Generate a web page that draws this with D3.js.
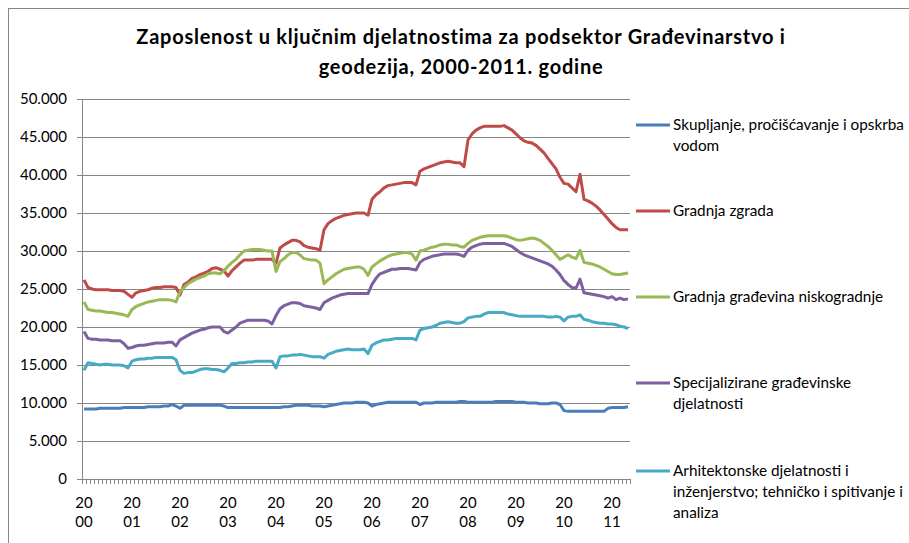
<!DOCTYPE html>
<html>
<head>
<meta charset="utf-8">
<script src="https://cdn.jsdelivr.net/npm/d3@7"></script>
<style>
  body { margin: 0; background: #fff; }
  svg { display: block; font-family: Lato, "Open Sans", sans-serif; }
</style>
</head>
<body>
<svg id="chart" width="909" height="543"></svg>
<script>
// godine na osi x, mjesečni podaci od siječnja 2000. do svibnja 2011.
const years = ["2000", "2001", "2002", "2003", "2004", "2005", "2006", "2007", "2008", "2009", "2010", "2011"];
const monthsInLastYear = 5;
const yTicks = [0, 5000, 10000, 15000, 20000, 25000, 30000, 35000, 40000, 45000, 50000];

// vrijednosti u tisućama zaposlenih
const skupljanje = [
  9.2, 9.2, 9.2, 9.2, 9.3, 9.3, 9.3, 9.3, 9.3, 9.3, 9.4, 9.4,
  9.4, 9.4, 9.4, 9.4, 9.5, 9.5, 9.5, 9.5, 9.6, 9.6, 9.8, 9.6,
  9.3, 9.7, 9.7, 9.7, 9.7, 9.7, 9.7, 9.7, 9.7, 9.7, 9.7, 9.6,
  9.4, 9.4, 9.4, 9.4, 9.4, 9.4, 9.4, 9.4, 9.4, 9.4, 9.4, 9.4,
  9.4, 9.4, 9.5, 9.5, 9.6, 9.7, 9.7, 9.7, 9.7, 9.6, 9.6, 9.6,
  9.5, 9.6, 9.7, 9.8, 9.9, 10.0, 10.0, 10.0, 10.1, 10.1, 10.1, 10.0,
  9.6, 9.8, 9.9, 10.0, 10.1, 10.1, 10.1, 10.1, 10.1, 10.1, 10.1, 10.1,
  9.8, 10.0, 10.0, 10.0, 10.1, 10.1, 10.1, 10.1, 10.1, 10.1, 10.2, 10.2,
  10.1, 10.1, 10.1, 10.1, 10.1, 10.1, 10.1, 10.2, 10.2, 10.2, 10.2, 10.2,
  10.1, 10.1, 10.1, 10.0, 10.0, 10.0, 9.9, 9.9, 9.9, 10.0, 10.0, 9.8,
  9.0, 8.9, 8.9, 8.9, 8.9, 8.9, 8.9, 8.9, 8.9, 8.9, 8.9, 9.3,
  9.4, 9.4, 9.4, 9.4, 9.5
];
const gradnjaZgrada = [
  26.2, 25.2, 25.0, 24.9, 24.9, 24.9, 24.9, 24.8, 24.8, 24.8, 24.7, 24.3,
  23.9, 24.5, 24.7, 24.8, 24.9, 25.1, 25.2, 25.2, 25.3, 25.3, 25.3, 25.2,
  24.2, 25.6, 25.9, 26.4, 26.6, 26.9, 27.1, 27.3, 27.7, 27.8, 27.6, 27.4,
  26.7, 27.4, 27.9, 28.4, 28.8, 28.8, 28.8, 28.9, 28.9, 28.9, 28.9, 28.9,
  28.4, 30.4, 30.8, 31.1, 31.4, 31.4, 31.2, 30.7, 30.5, 30.4, 30.3, 30.1,
  32.8, 33.6, 34.0, 34.3, 34.5, 34.7, 34.8, 34.9, 35.0, 35.0, 35.0, 34.7,
  36.8, 37.4, 37.8, 38.3, 38.6, 38.7, 38.8, 38.9, 39.0, 39.0, 39.0, 38.7,
  40.5, 40.8, 41.0, 41.2, 41.4, 41.6, 41.7, 41.8, 41.7, 41.6, 41.6, 41.1,
  44.6, 45.4, 45.9, 46.2, 46.4, 46.4, 46.4, 46.4, 46.4, 46.5, 46.2, 45.9,
  45.4, 44.9, 44.5, 44.3, 44.2, 43.9, 43.4, 42.9, 42.2, 41.5, 40.8, 39.7,
  38.9, 38.8, 38.3, 37.8, 40.1, 36.8, 36.6, 36.3, 35.9, 35.4, 34.8, 34.2,
  33.6, 33.1, 32.8, 32.8, 32.8
];
const niskogradnja = [
  23.3, 22.3, 22.2, 22.1, 22.1, 22.0, 21.9, 21.9, 21.8, 21.7, 21.6, 21.4,
  22.3, 22.7, 22.9, 23.1, 23.3, 23.4, 23.5, 23.6, 23.6, 23.6, 23.5, 23.3,
  24.6, 25.2, 25.7, 26.0, 26.3, 26.5, 26.7, 27.0, 27.1, 27.1, 27.0, 27.4,
  28.0, 28.5, 28.9, 29.5, 30.0, 30.1, 30.2, 30.2, 30.2, 30.1, 30.0, 30.0,
  27.3, 28.6, 29.0, 29.5, 29.8, 29.8, 29.5, 29.0, 28.9, 28.8, 28.8, 28.4,
  25.7, 26.2, 26.6, 27.0, 27.3, 27.6, 27.7, 27.8, 27.9, 27.9, 27.6, 26.8,
  27.9, 28.3, 28.7, 29.0, 29.3, 29.5, 29.6, 29.7, 29.8, 29.8, 29.6, 28.8,
  30.0, 30.1, 30.3, 30.5, 30.6, 30.8, 30.9, 30.9, 30.8, 30.8, 30.6, 30.5,
  31.0, 31.4, 31.6, 31.8, 31.9, 32.0, 32.0, 32.0, 32.0, 32.0, 31.9, 31.7,
  31.5, 31.4, 31.5, 31.6, 31.7, 31.6, 31.4, 31.0, 30.6, 30.1, 29.5, 28.9,
  29.2, 29.5, 29.2, 29.0, 30.1, 28.5, 28.4, 28.3, 28.1, 27.9, 27.6, 27.3,
  27.0, 26.9, 26.9, 27.0, 27.1
];
const specijalizirane = [
  19.4, 18.5, 18.4, 18.4, 18.3, 18.3, 18.3, 18.2, 18.2, 18.2, 17.8, 17.2,
  17.3, 17.5, 17.6, 17.6, 17.7, 17.8, 17.9, 17.9, 17.9, 18.0, 18.0, 17.5,
  18.3, 18.6, 18.9, 19.2, 19.4, 19.6, 19.7, 19.9, 20.0, 20.0, 20.0, 19.4,
  19.2, 19.6, 20.0, 20.5, 20.7, 20.9, 20.9, 20.9, 20.9, 20.9, 20.8, 20.4,
  21.5, 22.4, 22.8, 23.0, 23.2, 23.2, 23.1, 22.8, 22.7, 22.6, 22.5, 22.3,
  23.2, 23.5, 23.8, 24.0, 24.2, 24.3, 24.4, 24.4, 24.4, 24.4, 24.4, 24.4,
  25.6, 26.4, 27.0, 27.2, 27.4, 27.6, 27.6, 27.7, 27.7, 27.7, 27.6, 27.5,
  28.5, 28.9, 29.1, 29.3, 29.4, 29.5, 29.6, 29.6, 29.6, 29.6, 29.5, 29.3,
  30.1, 30.5, 30.7, 30.9, 31.0, 31.0, 31.0, 31.0, 31.0, 31.0, 30.8, 30.6,
  30.2, 29.8, 29.5, 29.3, 29.1, 28.9, 28.7, 28.5, 28.3, 28.0, 27.5, 26.9,
  26.1, 25.6, 25.2, 25.1, 26.3, 24.5, 24.4, 24.3, 24.2, 24.1, 24.0, 23.8,
  24.0, 23.6, 23.8, 23.6, 23.7
];
const arhitektonske = [
  14.3, 15.3, 15.2, 15.1, 15.0, 15.1, 15.1, 15.0, 15.0, 15.0, 14.9, 14.6,
  15.5, 15.7, 15.8, 15.8, 15.9, 15.9, 16.0, 16.0, 16.0, 16.0, 16.0, 15.7,
  14.3, 13.9, 14.0, 14.0, 14.2, 14.4, 14.5, 14.5, 14.4, 14.4, 14.3, 14.1,
  14.6, 15.2, 15.2, 15.3, 15.3, 15.4, 15.4, 15.5, 15.5, 15.5, 15.5, 15.5,
  14.6, 16.1, 16.2, 16.2, 16.3, 16.3, 16.4, 16.3, 16.2, 16.1, 16.1, 16.1,
  15.9, 16.4, 16.6, 16.8, 16.9, 17.0, 17.1, 17.0, 17.0, 17.0, 17.1, 16.5,
  17.6, 17.9, 18.1, 18.3, 18.3, 18.4, 18.5, 18.5, 18.5, 18.5, 18.5, 18.3,
  19.6, 19.8, 19.9, 20.0, 20.2, 20.5, 20.6, 20.7, 20.6, 20.5, 20.5, 20.7,
  21.2, 21.3, 21.4, 21.4, 21.7, 21.9, 21.9, 21.9, 21.9, 21.9, 21.7, 21.6,
  21.5, 21.4, 21.4, 21.4, 21.4, 21.4, 21.4, 21.4, 21.3, 21.3, 21.4, 21.3,
  20.8, 21.3, 21.4, 21.4, 21.6, 21.0, 20.9, 20.7, 20.6, 20.5, 20.5, 20.4,
  20.4, 20.3, 20.1, 20.0, 19.8
];

const seriesNames = [
  ["Skupljanje, pročišćavanje i opskrba", "vodom"],
  ["Gradnja zgrada"],
  ["Gradnja građevina niskogradnje"],
  ["Specijalizirane građevinske", "djelatnosti"],
  ["Arhitektonske djelatnosti i", "inženjerstvo; tehničko i spitivanje i", "analiza"]
];
const seriesValues = [skupljanje, gradnjaZgrada, niskogradnja, specijalizirane, arhitektonske];
const seriesColors = ["#4a7ebb", "#be4b48", "#98b954", "#7d60a0", "#46aac5"];
const legendY = [125, 211, 297, 383, 471];

// kategorije: svaki mjesec
const months = [];
years.forEach((yr, k) => {
  const n = k === years.length - 1 ? monthsInLastYear : 12;
  for (let m = 1; m <= n; m++) months.push(yr + "-" + String(m).padStart(2, "0"));
});

const svg = d3.select("#chart");
const plotLeft = 82, plotRight = 630, plotTop = 99, plotBottom = 479;

svg.append("rect")
  .attr("x", 8.5).attr("y", 8.5)
  .attr("width", 1000).attr("height", 1000)
  .attr("fill", "#fff").attr("stroke", "#868686");

const x = d3.scaleBand().domain(months).range([plotLeft, plotRight]).padding(0);
const y = d3.scaleLinear().domain([0, 50]).range([plotBottom, plotTop]);

const fmt = d3.formatLocale({ decimal: ",", thousands: ".", grouping: [3], currency: ["", ""] }).format(",");

// mreža i oznake osi y
const yAxis = svg.append("g").attr("transform", `translate(${plotLeft},0)`)
  .call(d3.axisLeft(y)
    .tickValues(yTicks.map(v => v / 1000))
    .tickSize(5)
    .tickPadding(10)
    .tickFormat(v => fmt(Math.round(v * 1000))));
yAxis.select(".domain").attr("stroke", "#868686");
yAxis.selectAll(".tick line").attr("stroke", "#868686");
yAxis.selectAll(".tick text").attr("font-size", 15).attr("fill", "#000")
  .attr("font-family", "Lato, sans-serif");

svg.append("g").selectAll("line")
  .data(yTicks.filter(v => v > 0))
  .join("line")
  .attr("x1", plotLeft).attr("x2", plotRight)
  .attr("y1", d => Math.round(y(d / 1000)) + 0.5)
  .attr("y2", d => Math.round(y(d / 1000)) + 0.5)
  .attr("stroke", "#868686");

// os x s kvačicama za svaki mjesec
svg.append("line")
  .attr("x1", plotLeft).attr("x2", plotRight)
  .attr("y1", plotBottom + 0.5).attr("y2", plotBottom + 0.5)
  .attr("stroke", "#868686");
svg.append("g").selectAll("line")
  .data(months.concat(["end"]))
  .join("line")
  .attr("x1", (d, i) => Math.round(plotLeft + i * x.bandwidth()) + 0.5)
  .attr("x2", (d, i) => Math.round(plotLeft + i * x.bandwidth()) + 0.5)
  .attr("y1", plotBottom).attr("y2", plotBottom + 5)
  .attr("stroke", "#868686");

const yearLabels = svg.append("g").selectAll("text")
  .data(years)
  .join("text")
  .attr("x", d => x(d + "-01") + x.bandwidth() / 2)
  .attr("text-anchor", "middle")
  .attr("font-size", 15)
  .attr("fill", "#000");
yearLabels.append("tspan").attr("y", 508).text(d => d.slice(0, 2));
yearLabels.append("tspan").attr("y", 527)
  .attr("x", d => x(d + "-01") + x.bandwidth() / 2)
  .text(d => d.slice(2));

// linije serija
const line = d3.line()
  .x((v, i) => x(months[i]) + x.bandwidth() / 2)
  .y(v => y(v));

svg.append("g").selectAll("path")
  .data(seriesValues)
  .join("path")
  .attr("d", d => line(d))
  .attr("fill", "none")
  .attr("stroke", (d, i) => seriesColors[i])
  .attr("stroke-width", 3)
  .attr("stroke-linejoin", "round");

// naslov
const title = svg.append("text")
  .attr("text-anchor", "middle")
  .attr("font-size", 20)
  .attr("font-weight", "bold")
  .attr("letter-spacing", 0.75)
  .attr("fill", "#000");
title.append("tspan").attr("x", 461).attr("y", 44)
  .text("Zaposlenost u ključnim djelatnostima za podsektor Građevinarstvo i");
title.append("tspan").attr("x", 461).attr("y", 74)
  .text("geodezija, 2000-2011. godine");

// legenda
const legend = svg.append("g").selectAll("g")
  .data(seriesNames)
  .join("g")
  .attr("transform", (d, i) => `translate(636,${legendY[i]})`);
legend.append("line")
  .attr("x1", 0).attr("x2", 34)
  .attr("stroke", (d, i) => seriesColors[i])
  .attr("stroke-width", 3);
legend.append("text")
  .attr("font-size", 15.3)
  .attr("fill", "#000")
  .selectAll("tspan")
  .data(d => d)
  .join("tspan")
  .attr("x", 37)
  .attr("y", (d, i) => 5 + i * 21)
  .text(d => d);
</script>
</body>
</html>
